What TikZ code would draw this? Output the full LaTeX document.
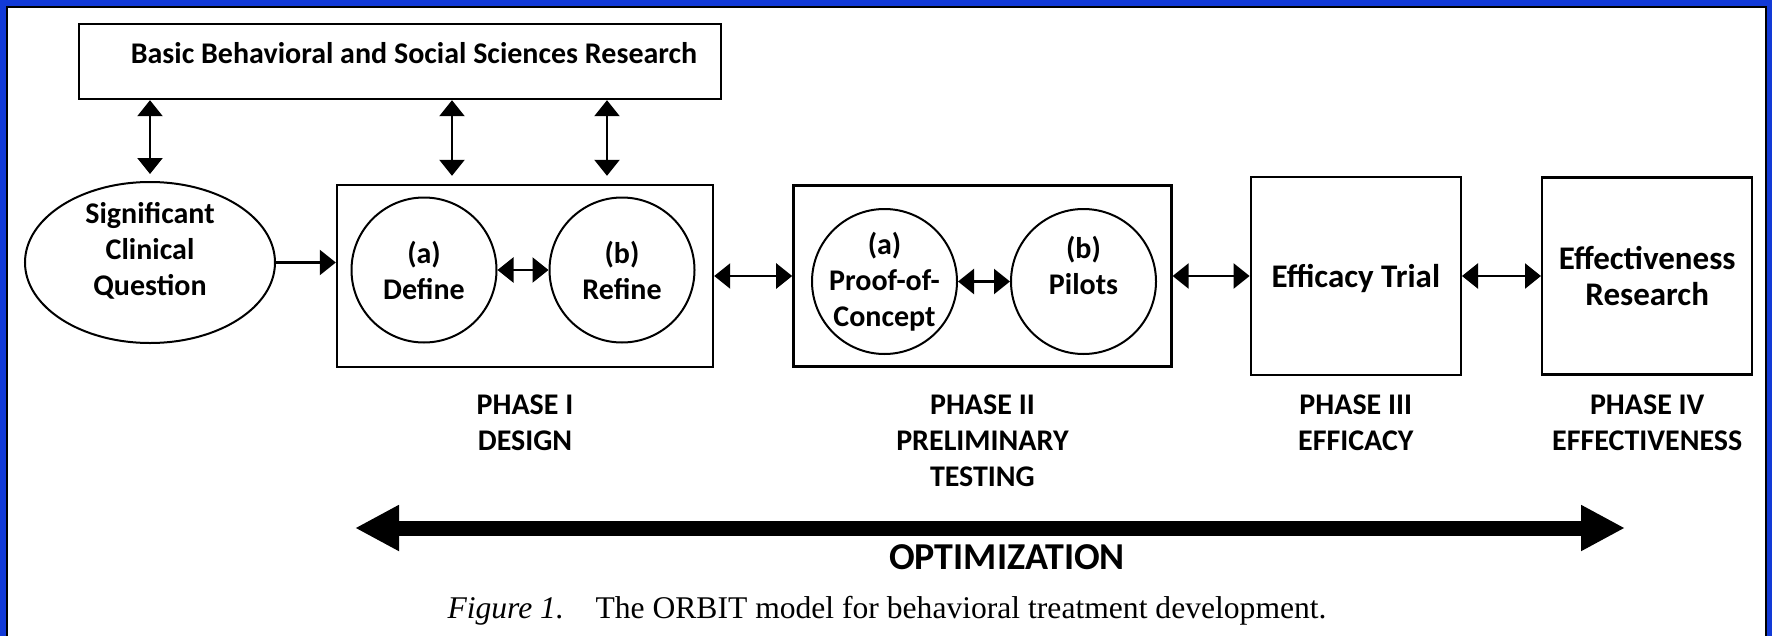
\documentclass[tikz,border=0pt]{standalone}
\usepackage{fontspec}
\setmainfont{Carlito}
\newfontfamily\capfont{Liberation Serif}
\usetikzlibrary{arrows.meta, positioning, shapes.geometric}
\definecolor{frameblue}{RGB}{18,58,215}

\begin{document}
\begin{tikzpicture}[x=1pt, y=-1pt, node distance=39pt, font=\fontsize{15}{18}\selectfont\bfseries, box/.style={draw, line width=1.2pt, align=center, inner sep=0pt}, circ/.style={circle, draw, line width=1pt, align=center, minimum size=72.5pt, inner sep=-8pt}, oval/.style={ellipse, draw, line width=1pt, minimum width=125pt, minimum height=80.5pt, inner sep=0pt}, phase/.style={align=center, anchor=north, inner sep=0pt}, big/.style={font=\fontsize{16.5}{18}\selectfont\bfseries}, arrow/.style={{Triangle[length=8pt,width=12.5pt]}-{Triangle[length=8pt,width=12.5pt]}, line width=1.2pt}, fwd/.style={-{Triangle[length=8pt,width=12.5pt]}, line width=1.2pt}, bigarrow/.style={{Triangle[length=22pt,width=21.5pt]}-{Triangle[length=22pt,width=21.5pt]}, line width=7.5pt}]

\fill[frameblue] (0,0) rectangle (886,318);
\fill[white] (3.5,3.5) rectangle (883,318);
\draw[line width=0.8pt] (3.5,318) -- (3.5,3.5) -- (883,3.5) -- (883,318);

\node[box, minimum width=321pt, minimum height=37.5pt, text depth=8.5pt] (basic) at (200,30.75) {\hspace*{14pt}Basic Behavioral and Social Sciences Research};
\node[oval, label={[align=center, yshift=6pt]center:Significant\\Clinical\\Question}] (question) at (75,131.25) {};
\node[box, minimum width=188pt, minimum height=91pt] (phaseone) at (262.5,138) {};
\node[box, minimum width=189pt, minimum height=90.5pt, right=of phaseone] (phasetwo) {};
\node[box, big, minimum width=105pt, minimum height=99pt, text depth=0pt, right=38.5pt of phasetwo] (efficacy) {Efficacy Trial};
\node[box, big, minimum width=105pt, minimum height=98.5pt, right=39.5pt of efficacy] (effect) {Effectiveness\\Research};
\node[circ] (define) at (212,135) {(a)\\Define};
\node[circ, right=25.5pt of define] (refine) {(b)\\Refine};
\node[circ] (poc) at (442.25,140.75) {(a)\\Proof-of-\\Concept};
\node[circ, right=26pt of poc, label={[align=center, yshift=8pt]center:(b)\\Pilots}] (pilots) {};

\coordinate (labrow) at (0,197);
\node[phase] (labone) at (phaseone |- labrow) {PHASE I\\DESIGN};
\node[phase] (labtwo) at (phasetwo |- labrow) {PHASE II\\PRELIMINARY\\TESTING};
\node[phase] (labthree) at (efficacy |- labrow) {PHASE III\\EFFICACY};
\node[phase] (labfour) at (effect |- labrow) {PHASE IV\\EFFECTIVENESS};

\coordinate (optl) at (177.5,264); \coordinate (optr) at (812.5,264);
\node[font=\fontsize{19}{21}\selectfont\bfseries] (opt) at (503.5,278.75) {OPTIMIZATION};
\node[anchor=base, font=\capfont\fontsize{15.8}{18}\selectfont] (caption) at (443.5,309) {\textit{Figure 1.}\quad The ORBIT model for behavioral treatment development.};

\coordinate (up2) at (226,0); \coordinate (up3) at (303.5,0);
\draw[arrow, shorten >=3.5pt](question |- basic.south)--(question);\draw[arrow, shorten >=4pt](basic.south -| up2)--(phaseone.north -| up2);\draw[arrow, shorten >=4pt](basic.south -| up3)--(phaseone.north -| up3);
\draw[fwd](question.east)--(question.east -| phaseone.west);\draw[arrow](define)--(refine);\draw[arrow](phaseone)--(phasetwo);\draw[arrow](poc)--(pilots);\draw[arrow](phasetwo)--(efficacy);\draw[arrow](efficacy)--(effect);
\draw[bigarrow](optl)--(optr);

\end{tikzpicture}
\end{document}
